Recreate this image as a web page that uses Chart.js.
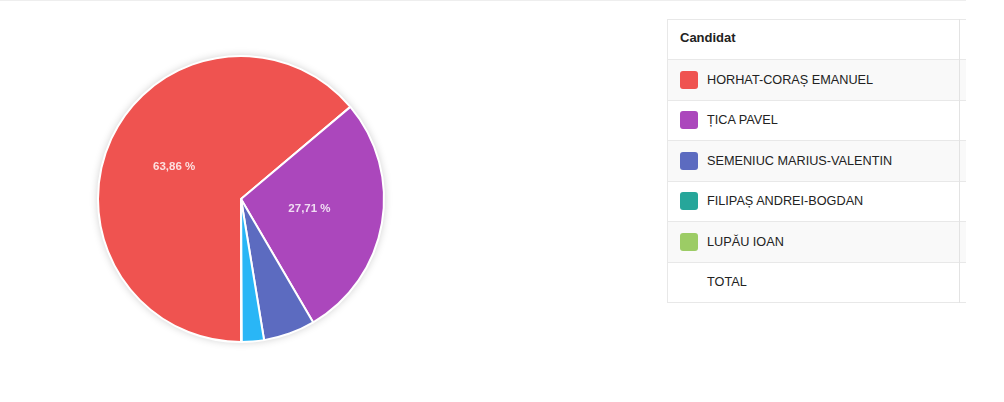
<!DOCTYPE html>
<html>
<head>
<meta charset="utf-8">
<script src="https://cdn.jsdelivr.net/npm/chart.js@4"></script>
<style>
  html, body { margin: 0; padding: 0; background: #fff; }
  body { width: 1004px; height: 402px; position: relative; overflow: hidden; font-family: "Liberation Sans", Arial, sans-serif; }
  .topline { position: absolute; left: 0; top: 0; width: 966px; height: 1px; background: #eeeeee; }
  #chartBox { position: absolute; left: 81px; top: 39px; width: 320px; height: 320px; }
  #tableBox { position: absolute; left: 667px; top: 19px; width: 299px; overflow: hidden; padding-bottom: 4px; }
  table { border-collapse: collapse; table-layout: fixed; width: 420px; font-size: 12.7px; color: #222; border-left: 1px solid #e8e8e8; border-bottom: 1px solid #e8e8e8; }
  td, th { padding: 0; border-top: 1px solid #e8e8e8; white-space: nowrap; }
  th { height: 39px; text-align: left; font-weight: 700; font-size: 13px; box-shadow: 0 2px 3px rgba(0,0,0,0.12); position: relative; }
  th span { position: relative; left: 12px; top: -2px; }
  td { height: 39.5px; }
  td.name, th.name { border-right: 1px solid #e3e3e3; }
  tr.odd td { background: #f9f9f9; }
  .sw { display: inline-block; width: 18px; height: 18px; border-radius: 3px; vertical-align: middle; margin: 0 9px 0 12px; }
  .txt { vertical-align: middle; }
</style>
</head>
<body>
<div class="topline"></div>
<div id="chartBox"><canvas id="pieChart"></canvas></div>
<div id="tableBox"><table id="tbl"></table></div>
<script>
const candidates = ["HORHAT-CORAȘ EMANUEL", "ȚICA PAVEL", "SEMENIUC MARIUS-VALENTIN", "FILIPAȘ ANDREI-BOGDAN", "LUPĂU IOAN"];
const percents = [63.86, 27.71, 5.85, 2.52, 0.06];
const sliceColors = ["#ef5350", "#ab47bc", "#5c6bc0", "#29b6f6", "#9ccc65"];
const swatchColors = ["#ef5350", "#ab47bc", "#5c6bc0", "#26a69a", "#9ccc65"];
const headerLabel = "Candidat";
const totalLabel = "TOTAL";

// tabel
const tbl = document.getElementById("tbl");
let html = "<colgroup><col style='width:292px'><col style='width:128px'></colgroup>";
html += "<tr><th class='name'><span>" + headerLabel + "</span></th><th></th></tr>";
candidates.forEach((c, i) => {
  html += "<tr class='" + (i % 2 === 0 ? "odd" : "") + "'><td class='name'><span class='sw' style='background:" +
    swatchColors[i] + "'></span><span class='txt'>" + c + "</span></td><td></td></tr>";
});
html += "<tr><td class='name'><span class='sw' style='background:transparent'></span><span class='txt'>" + totalLabel + "</span></td><td></td></tr>";
tbl.innerHTML = html;

const fmt = v => v.toFixed(2).replace(".", ",") + " %";

const shadowPlugin = {
  id: "pieShadow",
  beforeDatasetsDraw(chart) {
    const arc = chart.getDatasetMeta(0).data[0];
    if (!arc) return;
    const ctx = chart.ctx;
    ctx.save();
    ctx.shadowColor = "rgba(0,0,0,0.22)";
    ctx.shadowBlur = 8;
    ctx.fillStyle = "#fff";
    ctx.beginPath();
    ctx.arc(arc.x, arc.y, arc.outerRadius, 0, Math.PI * 2);
    ctx.fill();
    ctx.restore();
  }
};

const labelPlugin = {
  id: "pieLabels",
  afterDatasetsDraw(chart) {
    const ctx = chart.ctx;
    const meta = chart.getDatasetMeta(0);
    ctx.save();
    ctx.font = "bold 11.5px 'Liberation Sans', Arial, sans-serif";
    ctx.fillStyle = "rgba(255,255,255,0.82)";
    ctx.textAlign = "center";
    ctx.textBaseline = "middle";
    meta.data.forEach((el, i) => {
      if (percents[i] < 10) return;
      const p = el.tooltipPosition();
      ctx.fillText(fmt(percents[i]), p.x - 2, p.y - 2);
    });
    ctx.restore();
  }
};

new Chart(document.getElementById("pieChart"), {
  type: "pie",
  data: {
    labels: candidates,
    datasets: [{
      data: percents,
      backgroundColor: sliceColors,
      borderColor: "#ffffff",
      borderWidth: 2
    }]
  },
  options: {
    responsive: true,
    maintainAspectRatio: false,
    animation: false,
    rotation: 180,
    layout: { padding: 16 },
    plugins: { legend: { display: false }, tooltip: { enabled: false } }
  },
  plugins: [shadowPlugin, labelPlugin]
});
</script>
</body>
</html>
